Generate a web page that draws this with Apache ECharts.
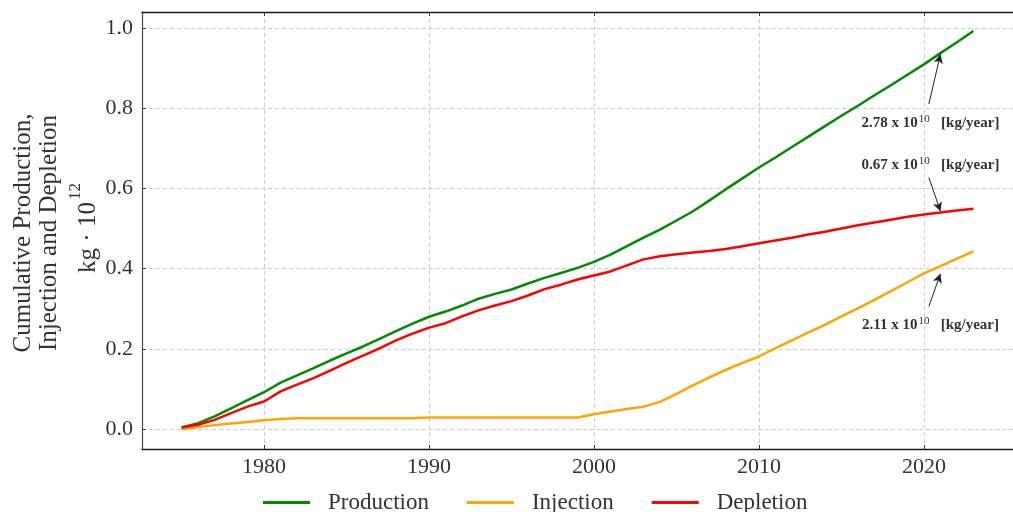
<!DOCTYPE html>
<html>
<head>
<meta charset="utf-8">
<script src="https://cdn.jsdelivr.net/npm/echarts@6/dist/echarts.min.js"></script>
<style>
  html, body { margin: 0; padding: 0; background: #fff; }
  #chart { width: 1013px; height: 512px; }
</style>
</head>
<body>
<div id="chart"></div>
<script>
// Cumulative mass balance of the field, in units of 10^12 kg
const years = [
  1975, 1976, 1977, 1978, 1979, 1980, 1981, 1982, 1983, 1984,
  1985, 1986, 1987, 1988, 1989, 1990, 1991, 1992, 1993, 1994,
  1995, 1996, 1997, 1998, 1999, 2000, 2001, 2002, 2003, 2004,
  2005, 2006, 2007, 2008, 2009, 2010, 2011, 2012, 2013, 2014,
  2015, 2016, 2017, 2018, 2019, 2020, 2021, 2022, 2023
];
const production = [
  0.004, 0.015, 0.032, 0.052, 0.072, 0.092, 0.116, 0.134, 0.152, 0.171,
  0.189, 0.206, 0.225, 0.244, 0.263, 0.280, 0.293, 0.308, 0.325, 0.337,
  0.348, 0.363, 0.377, 0.389, 0.402, 0.417, 0.435, 0.456, 0.477, 0.497,
  0.520, 0.543, 0.570, 0.598, 0.625, 0.652, 0.677, 0.703, 0.729, 0.755,
  0.781, 0.806, 0.832, 0.857, 0.883, 0.909, 0.937, 0.964, 0.992
];
const injection = [
  0.000, 0.005, 0.010, 0.014, 0.018, 0.022, 0.025, 0.027, 0.027, 0.027,
  0.027, 0.027, 0.027, 0.027, 0.027, 0.029, 0.029, 0.029, 0.029, 0.029,
  0.029, 0.029, 0.029, 0.029, 0.029, 0.037, 0.044, 0.050, 0.056, 0.068,
  0.088, 0.109, 0.129, 0.148, 0.165, 0.181, 0.202, 0.221, 0.241, 0.260,
  0.281, 0.301, 0.322, 0.344, 0.366, 0.388, 0.406, 0.425, 0.443
];
const depletion = [
  0.004, 0.011, 0.023, 0.040, 0.056, 0.069, 0.094, 0.111, 0.127, 0.146,
  0.165, 0.183, 0.201, 0.221, 0.238, 0.253, 0.264, 0.281, 0.296, 0.308,
  0.319, 0.333, 0.349, 0.360, 0.373, 0.383, 0.393, 0.408, 0.423, 0.431,
  0.436, 0.440, 0.444, 0.449, 0.456, 0.463, 0.470, 0.477, 0.485, 0.492,
  0.500, 0.508, 0.515, 0.522, 0.529, 0.535, 0.540, 0.545, 0.549
];
const seriesNames = ['Production', 'Injection', 'Depletion'];
const rates = ['2.78', '0.67', '2.11'];   // annual rates, x 10^10 kg/year
const xTicks = [1980, 1990, 2000, 2010, 2020];
const yTicks = [0, 0.2, 0.4, 0.6, 0.8, 1.0];

const SERIF = '"Liberation Serif", "Times New Roman", serif';
const TEXT = '#333333';
const GRID = { color: '#cccccc', width: 1, type: [4, 3] };

const pairs = arr => years.map((y, i) => [y, arr[i]]);

// Rate annotation: label text, arrow tail and arrow tip (data coordinates)
function rateNote(rate, labelAt, tail, tip) {
  return {
    markLine: {
      silent: true,
      symbol: ['none', 'arrow'],
      symbolSize: [7, 9],
      label: { show: false },
      lineStyle: { color: '#222', width: 1, type: 'solid' },
      data: [[{ coord: tail }, { coord: tip }]]
    },
    markPoint: {
      silent: true,
      symbol: 'circle',
      symbolSize: 1,
      itemStyle: { color: 'rgba(0,0,0,0)' },
      label: {
        show: true,
        position: 'inside',
        formatter: '{b|' + rate + ' x 10}{s|10}{b|   [kg/year]}',
        rich: {
          b: { fontFamily: SERIF, fontWeight: 'bold', fontSize: 15, color: TEXT, lineHeight: 19 },
          s: { fontFamily: SERIF, fontWeight: 'normal', fontSize: 11, color: TEXT, lineHeight: 19,
               verticalAlign: 'top', padding: [0, 0, 0, 1] }
        }
      },
      data: [{ coord: labelAt }]
    }
  };
}

const colors = ['#008b00', '#ffa500', '#ff0000'];
const series = [production, injection, depletion].map((arr, i) => ({
  name: seriesNames[i],
  type: 'line',
  data: pairs(arr),
  showSymbol: false,
  symbol: 'none',
  lineStyle: { color: colors[i], width: 2.5 },
  itemStyle: { color: colors[i] },
  z: 3 + i
}));
Object.assign(series[0], rateNote(rates[0], [2020.4, 0.762], [2020.3, 0.81], [2021, 0.934]));
Object.assign(series[2], rateNote(rates[1], [2020.4, 0.657], [2020.3, 0.627], [2021, 0.543]));
Object.assign(series[1], rateNote(rates[2], [2020.4, 0.258], [2020.3, 0.306], [2021, 0.387]));

const chart = echarts.init(document.getElementById('chart'), null, { renderer: 'canvas' });
chart.setOption({
  animation: false,
  backgroundColor: '#ffffff',
  grid: { left: 142, right: -9, top: 12, bottom: 63, containLabel: false },
  xAxis: [
    {
      type: 'value', position: 'bottom', min: 1972.6, max: 2025.4,
      axisLine: { show: true, onZero: false, lineStyle: { color: '#1a1a1a', width: 1.3 } },
      axisTick: { show: true, inside: true, length: 4, customValues: xTicks, lineStyle: { color: '#333' } },
      axisLabel: { customValues: xTicks, formatter: v => String(v), fontFamily: SERIF, fontSize: 22, color: TEXT, margin: 7 },
      splitLine: { show: true, lineStyle: GRID }
    },
    {
      type: 'value', position: 'top', min: 1972.6, max: 2025.4,
      axisLine: { show: true, onZero: false, lineStyle: { color: '#1a1a1a', width: 1.3 } },
      axisTick: { show: true, inside: true, length: 4, customValues: xTicks, lineStyle: { color: '#333' } },
      axisLabel: { show: false },
      splitLine: { show: false }
    }
  ],
  yAxis: {
    type: 'value', min: -0.0495, max: 1.0395,
    axisLine: { show: true, onZero: false, lineStyle: { color: '#444', width: 1.2 } },
    axisTick: { show: true, inside: true, length: 4, customValues: yTicks, lineStyle: { color: '#333' } },
    axisLabel: { customValues: yTicks, formatter: v => v.toFixed(1), fontFamily: SERIF, fontSize: 22, color: TEXT, margin: 9 },
    splitLine: { show: true, lineStyle: GRID }
  },
  legend: {
    data: seriesNames,
    left: 258, top: 486,
    icon: 'rect', itemWidth: 47, itemHeight: 3, itemGap: 38,
    textStyle: { fontFamily: SERIF, fontSize: 23, color: TEXT, padding: [0, 0, 0, 13] }
  },
  graphic: [
    {
      type: 'text', x: 23, y: 233, rotation: Math.PI / 2,
      style: { text: 'Cumulative Production,', fontFamily: SERIF, fontSize: 25, fill: TEXT,
               textAlign: 'center', textVerticalAlign: 'middle' }
    },
    {
      type: 'text', x: 49, y: 233, rotation: Math.PI / 2,
      style: { text: 'Injection and Depletion', fontFamily: SERIF, fontSize: 25, fill: TEXT,
               textAlign: 'center', textVerticalAlign: 'middle' }
    },
    {
      type: 'text', x: 84, y: 228, rotation: Math.PI / 2,
      style: {
        text: '{n|kg · 10}{s|12}', textAlign: 'center', textVerticalAlign: 'middle',
        rich: {
          n: { fontFamily: SERIF, fontSize: 25, fill: TEXT, lineHeight: 34, verticalAlign: 'bottom' },
          s: { fontFamily: SERIF, fontSize: 17, fill: TEXT, lineHeight: 34, verticalAlign: 'top', padding: [0, 0, 0, 2] }
        }
      }
    }
  ],
  series: series
});
</script>
</body>
</html>
